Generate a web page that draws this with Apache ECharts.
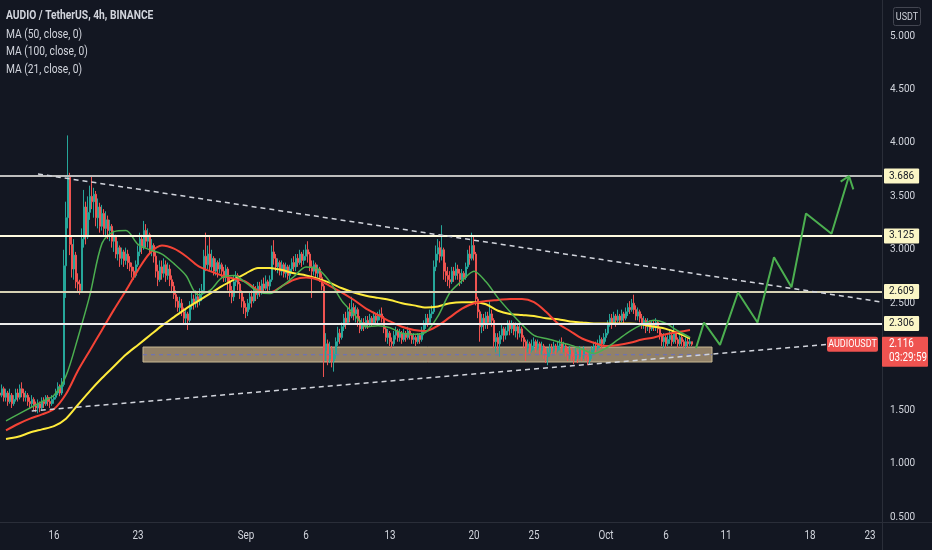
<!DOCTYPE html>
<html>
<head>
<meta charset="utf-8">
<script src="https://cdn.jsdelivr.net/npm/echarts@6/dist/echarts.min.js"></script>
<style>
html,body{margin:0;padding:0;background:#131722;}
#c{width:932px;height:550px;}
</style>
</head>
<body>
<div id="c"></div>
<script>
// ---------------- DATA ----------------
const titleText = 'AUDIO / TetherUS, 4h, BINANCE';
const maLegend = ['MA (50, close, 0)', 'MA (100, close, 0)', 'MA (21, close, 0)'];

// 4h candles starting 2021-08-11 12:00 UTC
const candleStart = '2021-08-11T12:00:00Z';
const firstOpen = 1.66;
const closes = [
 1.64,1.70,1.62,
 1.66,1.58,1.64,1.56,1.60,1.66,
 1.62,1.70,1.66,1.62,1.64,1.58,
 1.56,1.60,1.54,1.52,1.56,1.52,
 1.58,1.56,1.62,1.58,1.56,1.60,
 1.62,1.66,1.72,1.66,1.74,2.85,
 3.30,3.68,3.05,2.82,2.95,2.70,
 2.68,2.62,3.10,3.40,3.12,3.35,
 3.50,3.45,3.52,3.30,3.40,3.22,
 3.34,3.20,3.28,3.18,3.22,3.08,
 3.12,2.96,3.02,2.92,2.98,2.90,
 2.96,2.88,2.84,2.80,2.76,2.86,
 2.98,3.10,3.02,3.18,3.08,3.14,
 3.00,3.04,2.94,2.80,2.72,2.84,
 2.78,2.86,2.76,2.82,2.72,2.66,
 2.58,2.52,2.46,2.50,2.42,2.36,
 2.40,2.34,2.48,2.54,2.50,2.56,
 2.52,2.58,2.62,2.94,2.86,2.96,
 2.84,2.92,2.80,2.88,2.82,2.86,
 2.80,2.74,2.82,2.70,2.62,2.56,
 2.70,2.76,2.68,2.60,2.52,2.46,
 2.42,2.50,2.56,2.52,2.62,2.58,
 2.66,2.60,2.68,2.64,2.70,2.66,
 2.72,2.98,2.92,2.84,2.88,2.80,
 2.86,2.78,2.84,2.76,2.82,2.88,
 2.84,2.92,2.88,2.96,2.90,2.94,
 3.00,2.96,2.84,2.80,2.86,2.78,
 2.82,2.74,2.66,2.06,2.12,1.98,
 2.06,1.96,2.02,2.14,2.22,2.18,
 2.28,2.36,2.32,2.42,2.38,2.46,
 2.40,2.44,2.34,2.26,2.32,2.28,
 2.34,2.30,2.36,2.32,2.38,2.34,
 2.38,2.40,2.36,2.26,2.18,2.22,
 2.14,2.12,2.20,2.24,2.18,2.22,
 2.16,2.22,2.18,2.24,2.20,2.16,
 2.18,2.14,2.20,2.16,2.24,2.30,
 2.36,2.32,2.40,2.42,2.84,2.96,
 3.02,2.94,3.00,2.80,2.76,2.72,
 2.70,2.80,2.76,2.82,2.78,2.72,
 2.78,2.74,2.84,2.96,2.92,3.04,
 2.96,2.54,2.42,2.28,2.36,2.30,
 2.38,2.32,2.40,2.34,2.14,2.18,
 2.12,2.20,2.26,2.20,2.24,2.30,
 2.26,2.30,2.24,2.28,2.22,2.26,
 2.18,2.14,2.08,2.12,2.06,2.10,
 2.14,2.08,2.12,2.06,2.10,2.04,
 2.00,2.04,2.08,2.06,2.10,2.06,
 2.10,2.12,2.08,2.10,2.04,2.02,
 2.06,2.00,1.98,2.04,2.00,2.06,
 2.02,2.06,2.00,1.96,2.02,2.06,
 2.10,2.08,2.12,2.16,2.12,2.18,
 2.22,2.30,2.36,2.32,2.38,2.34,
 2.38,2.34,2.40,2.36,2.42,2.46,
 2.44,2.50,2.44,2.38,2.42,2.36,
 2.30,2.34,2.28,2.32,2.26,2.30,
 2.28,2.32,2.26,2.20,2.14,2.18,
 2.12,2.16,2.20,2.14,2.22,2.16,
 2.12,2.18,2.14,2.10,2.14,2.12,
 2.14,2.116
];
const highs = [
 1.70,1.74,1.72,
 1.70,1.68,1.70,1.66,1.64,1.70,
 1.70,1.74,1.76,1.70,1.68,1.66,
 1.62,1.64,1.62,1.58,1.60,1.58,
 1.62,1.62,1.64,1.64,1.62,1.64,
 1.64,1.70,1.76,1.74,1.80,3.00,
 3.45,4.07,3.72,3.12,3.10,2.98,
 2.78,2.72,3.20,3.56,3.45,3.50,
 3.60,3.69,3.58,3.55,3.48,3.44,
 3.42,3.38,3.36,3.32,3.28,3.24,
 3.18,3.14,3.08,3.04,3.02,3.00,
 3.02,3.00,2.94,2.88,2.84,2.90,
 3.04,3.16,3.14,3.27,3.24,3.20,
 3.16,3.10,3.06,2.98,2.86,2.90,
 2.90,2.92,2.90,2.88,2.86,2.76,
 2.70,2.62,2.56,2.56,2.54,2.46,
 2.44,2.42,2.52,2.60,2.58,2.62,
 2.60,2.64,2.68,3.00,3.16,3.04,
 3.12,3.00,2.94,2.92,2.90,2.92,
 2.88,2.84,2.86,2.84,2.74,2.66,
 2.76,2.80,2.78,2.70,2.62,2.56,
 2.50,2.54,2.60,2.62,2.68,2.66,
 2.70,2.70,2.72,2.74,2.76,2.72,
 2.76,3.04,3.09,2.96,2.92,2.90,
 2.90,2.88,2.88,2.86,2.86,2.92,
 2.94,2.96,2.96,3.00,2.98,3.00,
 3.05,3.08,2.98,2.90,2.90,2.88,
 2.86,2.84,2.78,2.68,2.22,2.16,
 2.14,2.10,2.06,2.18,2.28,2.26,
 2.32,2.40,2.42,2.46,2.50,2.56,
 2.50,2.48,2.46,2.38,2.36,2.36,
 2.38,2.38,2.40,2.38,2.42,2.40,
 2.42,2.44,2.46,2.38,2.28,2.26,
 2.24,2.18,2.24,2.28,2.26,2.26,
 2.24,2.26,2.24,2.28,2.26,2.22,
 2.22,2.20,2.22,2.22,2.28,2.34,
 2.40,2.40,2.44,2.48,2.90,3.04,
 3.10,3.08,3.23,3.02,2.88,2.84,
 2.80,2.84,2.84,2.88,2.86,2.82,
 2.82,2.80,2.88,3.00,3.04,3.16,
 3.12,2.98,2.56,2.44,2.40,2.40,
 2.42,2.42,2.53,2.44,2.36,2.22,
 2.22,2.24,2.30,2.28,2.28,2.34,
 2.34,2.34,2.32,2.32,2.30,2.30,
 2.28,2.20,2.16,2.16,2.14,2.16,
 2.18,2.16,2.16,2.14,2.14,2.12,
 2.08,2.08,2.12,2.12,2.14,2.12,
 2.14,2.16,2.18,2.14,2.12,2.08,
 2.10,2.08,2.04,2.08,2.06,2.10,
 2.08,2.10,2.08,2.04,2.06,2.10,
 2.14,2.14,2.16,2.20,2.18,2.22,
 2.26,2.34,2.40,2.40,2.42,2.40,
 2.44,2.40,2.44,2.42,2.46,2.50,
 2.52,2.54,2.58,2.48,2.46,2.44,
 2.40,2.38,2.36,2.36,2.34,2.34,
 2.34,2.36,2.34,2.28,2.22,2.22,
 2.20,2.20,2.24,2.22,2.30,2.24,
 2.18,2.20,2.20,2.16,2.18,2.18,
 2.18,2.14
];
const lows = [
 1.60,1.62,1.58,
 1.58,1.54,1.56,1.52,1.54,1.58,
 1.58,1.60,1.62,1.58,1.58,1.54,
 1.52,1.52,1.50,1.48,1.47,1.48,
 1.50,1.52,1.54,1.54,1.52,1.54,
 1.56,1.60,1.64,1.63,1.64,1.72,
 2.55,3.20,2.95,2.74,2.72,2.64,
 2.60,2.58,2.60,3.02,3.05,3.10,
 3.28,3.38,3.30,3.22,3.20,3.16,
 3.18,3.14,3.12,3.10,3.08,3.02,
 2.98,2.92,2.90,2.84,2.86,2.84,
 2.86,2.82,2.80,2.74,2.72,2.74,
 2.84,2.94,2.96,3.00,3.02,3.02,
 2.96,2.94,2.88,2.74,2.66,2.70,
 2.72,2.74,2.70,2.72,2.66,2.60,
 2.54,2.46,2.42,2.40,2.38,2.30,
 2.30,2.25,2.32,2.44,2.44,2.46,
 2.46,2.48,2.52,2.60,2.80,2.82,
 2.80,2.80,2.76,2.76,2.74,2.78,
 2.74,2.70,2.70,2.62,2.56,2.50,
 2.52,2.66,2.62,2.54,2.46,2.40,
 2.36,2.38,2.44,2.46,2.50,2.52,
 2.54,2.56,2.58,2.60,2.62,2.60,
 2.62,2.70,2.86,2.80,2.78,2.76,
 2.76,2.74,2.74,2.72,2.72,2.78,
 2.80,2.80,2.84,2.86,2.84,2.86,
 2.90,2.88,2.80,2.55,2.76,2.72,
 2.74,2.70,2.62,1.81,1.96,1.92,
 1.94,1.90,1.86,1.98,2.10,2.12,
 2.16,2.24,2.26,2.30,2.32,2.36,
 2.34,2.32,2.28,2.22,2.24,2.24,
 2.26,2.26,2.28,2.28,2.30,2.30,
 2.30,2.34,2.32,2.22,2.14,2.12,
 2.10,2.08,2.10,2.16,2.14,2.14,
 2.12,2.14,2.14,2.16,2.16,2.12,
 2.12,2.10,2.12,2.12,2.14,2.20,
 2.26,2.28,2.30,2.36,2.40,2.80,
 2.90,2.88,2.90,2.72,2.70,2.66,
 2.64,2.68,2.70,2.72,2.72,2.66,
 2.68,2.70,2.72,2.82,2.86,2.90,
 2.90,2.48,2.36,2.14,2.22,2.24,
 2.26,2.26,2.30,2.28,2.08,2.04,
 2.06,2.00,2.16,2.14,2.16,2.20,
 2.20,2.22,2.20,2.18,2.16,2.18,
 2.14,2.08,1.96,2.04,2.02,2.04,
 2.06,2.04,2.06,2.02,2.02,1.98,
 1.94,1.92,2.00,2.02,2.04,2.02,
 2.04,2.06,2.04,2.04,2.00,1.96,
 1.98,1.96,1.93,1.96,1.94,1.98,
 1.96,1.98,1.96,1.92,1.93,1.98,
 2.02,2.04,2.06,2.08,2.08,2.10,
 2.14,2.20,2.28,2.26,2.30,2.28,
 2.32,2.30,2.32,2.30,2.34,2.38,
 2.40,2.42,2.40,2.34,2.34,2.32,
 2.26,2.26,2.22,2.24,2.22,2.24,
 2.24,2.24,2.22,2.16,2.10,2.08,
 2.08,2.10,2.12,2.10,2.12,2.12,
 2.08,2.10,2.10,2.08,2.08,2.08,
 2.10,2.10
];

// Moving averages, daily samples starting 2021-08-12 00:00 UTC
const maStart = '2021-08-12T00:00:00Z';
const ma100 = [1.23,1.25,1.29,1.32,1.35,1.42,1.55,1.68,1.80,1.91,2.02,2.11,2.20,2.29,2.37,2.45,2.52,2.59,2.66,2.72,
 2.78,2.83,2.83,2.81,2.78,2.76,2.73,2.69,2.64,2.60,2.57,2.55,2.53,2.50,2.48,2.46,2.47,2.50,2.51,2.51,
 2.49,2.43,2.40,2.39,2.38,2.36,2.35,2.33,2.32,2.31,2.31,2.31,2.31,2.30,2.28,2.26,2.22,2.17];
const ma50 = [1.31,1.37,1.42,1.46,1.51,1.65,1.87,2.06,2.25,2.44,2.62,2.81,2.97,3.04,3.01,2.94,2.85,2.80,2.76,2.73,
 2.70,2.62,2.60,2.66,2.72,2.74,2.72,2.66,2.60,2.53,2.45,2.39,2.33,2.28,2.25,2.24,2.29,2.37,2.45,2.50,
 2.52,2.53,2.54,2.54,2.51,2.42,2.31,2.24,2.17,2.13,2.10,2.11,2.13,2.16,2.18,2.21,2.23,2.25];
const ma21 = [1.40,1.46,1.52,1.58,1.64,1.82,2.18,2.58,3.06,3.17,3.18,3.05,3.00,2.96,2.87,2.76,2.58,2.62,2.74,2.76,
 2.69,2.61,2.59,2.66,2.75,2.84,2.82,2.70,2.52,2.40,2.28,2.29,2.27,2.22,2.21,2.23,2.38,2.60,2.71,2.80,
 2.70,2.55,2.42,2.30,2.20,2.17,2.14,2.11,2.07,2.03,2.08,2.16,2.24,2.30,2.34,2.31,2.24,2.18];

// Horizontal levels
const levels = [3.686, 3.125, 2.609, 2.306];

// Trend lines
const upperTrendDates = ['2021-08-14T16:00:00Z', '2021-10-24T00:00:00Z'];
const upperTrendValues = [3.709, 2.511];
const lowerTrendDates = ['2021-08-14T03:30:00Z', '2021-10-20T08:00:00Z'];
const lowerTrendValues = [1.492, 2.123];

// Support box
const boxDates = ['2021-08-23T10:00:00Z', '2021-10-09T20:00:00Z'];
const boxValues = [2.090, 1.950];
const boxMid = 2.018;

// Projection path
const projDates = ['2021-10-08T12:00:00Z','2021-10-09T04:00:00Z','2021-10-10T12:00:00Z','2021-10-12T00:00:00Z',
 '2021-10-13T15:00:00Z','2021-10-15T00:00:00Z','2021-10-16T11:00:00Z','2021-10-17T16:00:00Z',
 '2021-10-19T19:00:00Z','2021-10-21T06:00:00Z'];
const projValues = [2.08, 2.32, 2.11, 2.60, 2.32, 2.93, 2.65, 3.34, 3.15, 3.69];
const arrowDates = ['2021-10-20T13:20:00Z','2021-10-21T06:00:00Z','2021-10-21T14:40:00Z'];
const arrowValues = [3.637, 3.69, 3.565];

// Axis ticks
const tickDates = ['2021-08-16','2021-08-23','2021-09-01','2021-09-06','2021-09-13','2021-09-20',
 '2021-09-25','2021-10-01','2021-10-06','2021-10-11','2021-10-18','2021-10-23'];
const tickLabels = ['16','23','Sep','6','13','20','25','Oct','6','11','18','23'];

const symbolName = 'AUDIOUSDT';
const countdown = '03:29:59';
const quoteName = 'USDT';

// ---------------- BUILD ----------------
const FONT = "Roboto,'Noto Sans',sans-serif";
const H4 = 4 * 3600 * 1000, DAY = 24 * 3600 * 1000;
const t0 = Date.parse(candleStart);
const candleData = closes.map((c, i) => {
  const o = i === 0 ? firstOpen : closes[i - 1];
  const h = Math.max(highs[i], o, c), l = Math.min(lows[i], o, c);
  return [t0 + i * H4, o, c, l, h];
});
const m0 = Date.parse(maStart);
const maSeries = arr => arr.map((v, i) => [m0 + i * DAY, v]);
const pairs = (d, v) => d.map((s, i) => [Date.parse(s), v[i]]);
const tickTimes = tickDates.map(s => Date.parse(s + 'T00:00:00Z'));
const lastClose = closes[closes.length - 1];

const levelColors = ['#bdbdbd', '#fffbe0', '#d6d2b4', '#ececec'];
const UP = '#26a69a', DOWN = '#ef5350';

const chart = echarts.init(document.getElementById('c'), null, {renderer: 'canvas'});
const option = {
  backgroundColor: '#131722',
  animation: false,
  textStyle: {fontFamily: FONT},
  grid: {left: 0, right: 50, top: 36, bottom: 33},
  xAxis: {
    type: 'time',
    min: Date.parse('2021-08-11T12:00:00Z'),
    max: Date.parse('2021-10-24T00:00:00Z'),
    axisLine: {show: false}, axisTick: {show: false}, splitLine: {show: false},
    axisLabel: {show: false}
  },
  yAxis: {
    type: 'value', position: 'right', min: 0.5, max: 5, interval: 0.5, scale: false,
    axisLine: {show: false}, axisTick: {show: false}, splitLine: {show: false},
    axisLabel: {color: '#d1d4dc', fontSize: 10, fontFamily: FONT, margin: 8, formatter: v => v.toFixed(3)}
  },
  series: [
    {
      type: 'candlestick', name: 'AUDIOUSDT', data: candleData,
      large: false, progressive: 0,
      barWidth: 1.6,
      itemStyle: {color: UP, color0: DOWN, borderColor: UP, borderColor0: DOWN, borderColorDoji: UP, borderWidth: 1, opacity: 1},
      emphasis: {disabled: true},
      markArea: {
        silent: true,
        itemStyle: {color: 'rgba(196,170,132,0.72)', borderColor: '#c9b993', borderWidth: 1},
        data: [[{xAxis: Date.parse(boxDates[0]), yAxis: boxValues[0]}, {xAxis: Date.parse(boxDates[1]), yAxis: boxValues[1]}]]
      },
      z: 2
    },
    {type: 'line', name: 'MA100', data: maSeries(ma100), showSymbol: false, smooth: 0.3,
      lineStyle: {color: '#ffeb3b', width: 2}, z: 4},
    {type: 'line', name: 'MA50', data: maSeries(ma50), showSymbol: false, smooth: 0.3,
      lineStyle: {color: '#f44336', width: 2}, z: 4},
    {type: 'line', name: 'MA21', data: maSeries(ma21), showSymbol: false, smooth: 0.3,
      lineStyle: {color: '#4caf50', width: 1.5}, z: 4},
    {type: 'line', name: 'levels', data: [], z: 5,
      markLine: {
        silent: true, symbol: 'none',
        data: levels.map((v, i) => ({
          yAxis: v,
          lineStyle: {color: levelColors[i], width: 2, type: 'solid'}
        })),
        label: {
          show: true, position: 'end', distance: 2,
          formatter: p => levels[p.dataIndex].toFixed(3),
          backgroundColor: '#fbf6c6', color: '#131722', fontSize: 10, fontFamily: FONT,
          padding: [3, 5, 2, 5], borderRadius: 1
        }
      }
    },
    {type: 'line', name: 'upperTrend', data: pairs(upperTrendDates, upperTrendValues), showSymbol: false,
      lineStyle: {color: '#d1d4dc', width: 1.5, type: [5, 4]}, z: 6},
    {type: 'line', name: 'lowerTrend', data: pairs(lowerTrendDates, lowerTrendValues), showSymbol: false,
      lineStyle: {color: '#d1d4dc', width: 1.5, type: [5, 4]}, z: 6},
    {type: 'line', name: 'boxMid', data: pairs(boxDates, [boxMid, boxMid]), showSymbol: false,
      lineStyle: {color: '#6570c9', width: 1, type: [4, 4]}, z: 3},
    {type: 'line', name: 'projection', data: pairs(projDates, projValues), showSymbol: false,
      lineStyle: {color: '#4caf50', width: 2}, z: 6},
    {type: 'line', name: 'arrow', data: pairs(arrowDates, arrowValues), showSymbol: false,
      lineStyle: {color: '#4caf50', width: 2}, z: 6}
  ]
};
chart.setOption(option);

// overlay labels positioned through the chart's own scale
const py = chart.convertToPixel({yAxisIndex: 0}, lastClose);
const narrow = 0.82;
const graphics = [
  {type: 'line', z: 50, shape: {x1: 882.5, y1: 0, x2: 882.5, y2: 550}, style: {stroke: '#2a2e39', lineWidth: 1}},
  {type: 'line', z: 50, shape: {x1: 0, y1: 522.5, x2: 932, y2: 522.5}, style: {stroke: '#2a2e39', lineWidth: 1}},
  {type: 'rect', z: 50, shape: {x: 893.5, y: 7.5, width: 27, height: 18, r: 2}, style: {fill: 'none', stroke: '#434651', lineWidth: 1}},
  {type: 'text', z: 51, x: 907, y: 17, scaleX: narrow, style: {text: quoteName, fill: '#d1d4dc', font: '11px ' + FONT, textAlign: 'center', textVerticalAlign: 'middle'}},
  {type: 'text', z: 51, x: 6, y: 16, scaleX: narrow, style: {text: titleText, fill: '#d1d4dc', font: 'bold 12.5px ' + FONT, textAlign: 'left', textVerticalAlign: 'middle'}},
  {type: 'rect', z: 50, shape: {x: 827, y: py - 7.5, width: 51, height: 15, r: 2}, style: {fill: DOWN}},
  {type: 'text', z: 51, x: 852.5, y: py, scaleX: narrow, style: {text: symbolName, fill: '#ffffff', font: '11px ' + FONT, textAlign: 'center', textVerticalAlign: 'middle'}},
  {type: 'rect', z: 50, shape: {x: 882, y: py - 7.5, width: 46, height: 30, r: 1}, style: {fill: DOWN}},
  {type: 'text', z: 51, x: 889, y: py, scaleX: narrow, style: {text: lastClose.toFixed(3), fill: '#ffffff', font: '12px ' + FONT, textAlign: 'left', textVerticalAlign: 'middle'}},
  {type: 'text', z: 51, x: 889, y: py + 14, scaleX: narrow, style: {text: countdown, fill: '#ffffff', font: '12px ' + FONT, textAlign: 'left', textVerticalAlign: 'middle'}}
];
maLegend.forEach((s, i) => {
  graphics.push({type: 'text', z: 51, x: 6, y: 34.5 + i * 17.8, scaleX: narrow,
    style: {text: s, fill: '#d1d4dc', font: '12.5px ' + FONT, textAlign: 'left', textVerticalAlign: 'middle'}});
});
tickTimes.forEach((t, i) => {
  const px = chart.convertToPixel({xAxisIndex: 0}, t);
  graphics.push({type: 'text', z: 51, x: px, y: 536, scaleX: narrow,
    style: {text: tickLabels[i], fill: '#d1d4dc', font: '12px ' + FONT, textAlign: 'center', textVerticalAlign: 'middle'}});
});
chart.setOption({graphic: graphics});
</script>
</body>
</html>
